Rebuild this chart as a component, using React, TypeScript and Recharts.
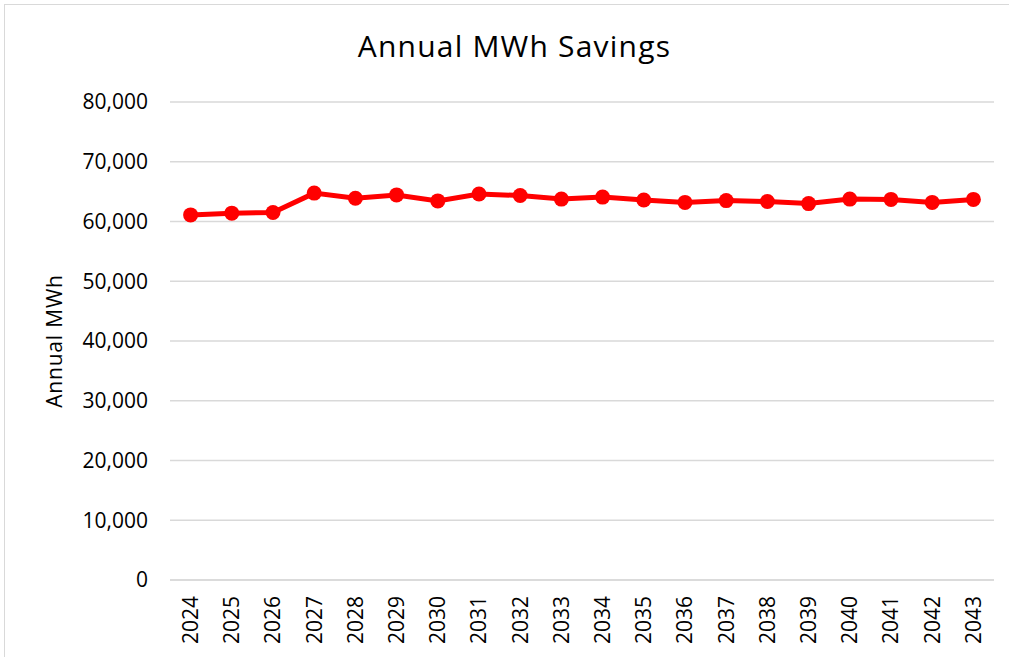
import { CartesianGrid, Line, LineChart, XAxis, YAxis } from "recharts";

const years = [
  "2024", "2025", "2026", "2027", "2028", "2029", "2030", "2031", "2032", "2033",
  "2034", "2035", "2036", "2037", "2038", "2039", "2040", "2041", "2042", "2043",
];
const savings = [
  61100, 61400, 61500, 64750, 63900, 64450, 63450, 64600, 64350, 63750,
  64080, 63600, 63200, 63500, 63350, 63000, 63750, 63700, 63200, 63700,
];
const yTicks = [0, 10000, 20000, 30000, 40000, 50000, 60000, 70000, 80000];

const data = years.map((year, i) => ({ year, mwh: savings[i] }));

const FONT = "'Open Sans', sans-serif";

function YearTick({ x, y, payload }: any) {
  return (
    <text
      x={x}
      y={y}
      transform={`rotate(-90 ${x} ${y})`}
      textAnchor="end"
      dy="0.35em"
      fontFamily={FONT}
      fontSize={21}
      fill="#000"
    >
      {payload.value}
    </text>
  );
}

function AxisTitle({ viewBox }: any) {
  const cx = 55;
  const cy = viewBox.y + viewBox.height / 2;
  return (
    <text
      x={cx}
      y={cy}
      transform={`rotate(-90 ${cx} ${cy})`}
      textAnchor="middle"
      dy="0.35em"
      fontFamily={FONT}
      fontSize={21}
      letterSpacing={0.8}
      fill="#000"
    >
      Annual MWh
    </text>
  );
}

export default function App() {
  return (
    <div
      style={{
        position: "absolute",
        left: 0,
        top: 0,
        width: 1009,
        height: 657,
        overflow: "hidden",
        background: "#fff",
      }}
    >
      <div
        style={{
          position: "absolute",
          left: 4,
          top: 4,
          width: 1020,
          height: 680,
          border: "1px solid #d9d9d9",
        }}
      />
      <div
        style={{
          position: "absolute",
          left: 4,
          width: 1021,
          top: 31,
          textAlign: "center",
          fontFamily: FONT,
          fontSize: 30,
          lineHeight: "30px",
          letterSpacing: 1.2,
          color: "#000",
        }}
      >
        Annual MWh Savings
      </div>
      <div style={{ position: "absolute", left: 0, top: 0 }}>
        <LineChart
          width={1009}
          height={657}
          data={data}
          margin={{ top: 102, right: 15, bottom: 0, left: 0 }}
        >
          <CartesianGrid vertical={false} stroke="#d9d9d9" strokeWidth={1.5} />
          <XAxis
            dataKey="year"
            height={77}
            interval={0}
            padding={{ left: 20.6, right: 20.6 }}
            axisLine={{ stroke: "#d9d9d9", strokeWidth: 1.5 }}
            tickLine={false}
            tickSize={0}
            tickMargin={16}
            tick={<YearTick />}
          />
          <YAxis
            width={170}
            domain={[0, 80000]}
            ticks={yTicks}
            interval={0}
            axisLine={false}
            tickLine={false}
            tickSize={0}
            tickMargin={22}
            tickFormatter={(v) => Number(v).toLocaleString("en-US")}
            tick={{ fontFamily: FONT, fontSize: 21, fill: "#000" }}
            label={{ content: <AxisTitle /> }}
          />
          <Line
            type="linear"
            dataKey="mwh"
            stroke="#ff0000"
            strokeWidth={5}
            dot={{ r: 7.5, fill: "#ff0000", stroke: "none" }}
            activeDot={false}
            isAnimationActive={false}
          />
        </LineChart>
      </div>
    </div>
  );
}
